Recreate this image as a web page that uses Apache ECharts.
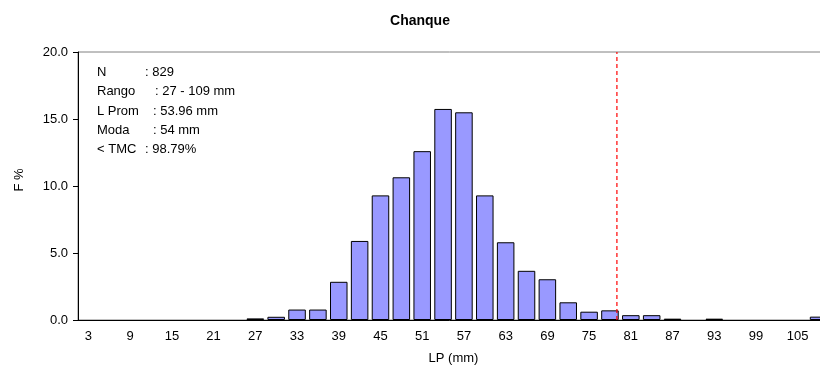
<!DOCTYPE html>
<html>
<head>
<meta charset="utf-8">
<script src="https://cdn.jsdelivr.net/npm/echarts@6/dist/echarts.min.js"></script>
<style>
  html, body { margin: 0; padding: 0; background: #fff; }
  #chart { width: 820px; height: 370px; }
</style>
</head>
<body>
<div id="chart"></div>
<script>
// length classes (mm), every 3 mm
const lengthClasses = ['3', '6', '9', '12', '15', '18', '21', '24', '27', '30', '33', '36',
  '39', '42', '45', '48', '51', '54', '57', '60', '63', '66', '69', '72',
  '75', '78', '81', '84', '87', '90', '93', '96', '99', '102', '105', '108'];

// frequency in %
const freqPct = [0, 0, 0, 0, 0, 0, 0, 0, 0.12, 0.24, 0.78, 0.78,
  2.85, 5.9, 9.3, 10.65, 12.6, 15.75, 15.5, 9.3, 5.8, 3.67,
  3.04, 1.32, 0.62, 0.72, 0.36, 0.36, 0.1, 0, 0.1, 0, 0, 0, 0, 0.25];

const tmc = 79;

const statNames = ['N', 'Rango', 'L Prom', 'Moda', '< TMC'];
const statValues = [': 829', ': 27 - 109 mm', ': 53.96 mm', ': 54 mm', ': 98.79%'];

const font = 'Liberation Sans, Arial, sans-serif';
const chart = echarts.init(document.getElementById('chart'));

// stats box text, label and value placed apart like the excel original
const valueX = [145, 155, 153, 153, 145];
const statGraphics = [];
statNames.forEach((n, i) => {
  const y = 73 + i * 19.3;
  statGraphics.push({ type: 'text', left: 97, top: y - 7, style: { text: n, font: '13px ' + font, fill: '#000' } });
  statGraphics.push({ type: 'text', left: valueX[i], top: y - 7, style: { text: statValues[i], font: '13px ' + font, fill: '#000' } });
});

chart.setOption({
  animation: false,
  title: {
    text: 'Chanque',
    left: 415,
    textAlign: 'center',
    top: 9,
    textStyle: { fontFamily: font, fontSize: 14, fontWeight: 'bold', color: '#000' }
  },
  grid: {
    left: 78, top: 52, right: -9, bottom: 50,
    outerBoundsMode: 'none',
    show: true, borderColor: '#808080', borderWidth: 1
  },
  xAxis: [
    {
      type: 'category',
      data: lengthClasses,
      name: 'LP (mm)',
      nameLocation: 'middle',
      nameGap: 32,
      nameTextStyle: { fontFamily: font, fontSize: 13, color: '#000' },
      axisLine: { lineStyle: { color: '#000', width: 1 } },
      axisTick: { interval: 0, length: 5, lineStyle: { color: '#000' } },
      axisLabel: { interval: 1, fontFamily: font, fontSize: 13, color: '#000', margin: 10 }
    },
    {
      type: 'value',
      min: 1.5,
      max: 109.5,
      show: false
    }
  ],
  yAxis: {
    type: 'value',
    min: 0,
    max: 20,
    interval: 5,
    name: 'F %',
    nameLocation: 'middle',
    nameGap: 52,
    nameTextStyle: { fontFamily: font, fontSize: 13, color: '#000', padding: [0, 0, 0, 12] },
    axisLine: { show: true, lineStyle: { color: '#000', width: 1 } },
    axisTick: { show: true, length: 5, lineStyle: { color: '#000' } },
    axisLabel: { fontFamily: font, fontSize: 13, color: '#000', margin: 10, formatter: v => v.toFixed(1) },
    splitLine: { show: false }
  },
  series: [
    {
      type: 'bar',
      // empty classes get no bar at all
      data: freqPct.map(v => v || null),
      barCategoryGap: '16%',
      itemStyle: { color: '#9999FF', borderColor: '#000', borderWidth: 1 }
    },
    {
      // TMC reference line
      type: 'line',
      xAxisIndex: 1,
      data: [[tmc, 0], [tmc, 20]],
      symbol: 'none',
      silent: true,
      z: 5,
      lineStyle: { color: '#FF0000', type: [4, 3], width: 1.2, opacity: 1 }
    }
  ],
  graphic: statGraphics
});
</script>
</body>
</html>
